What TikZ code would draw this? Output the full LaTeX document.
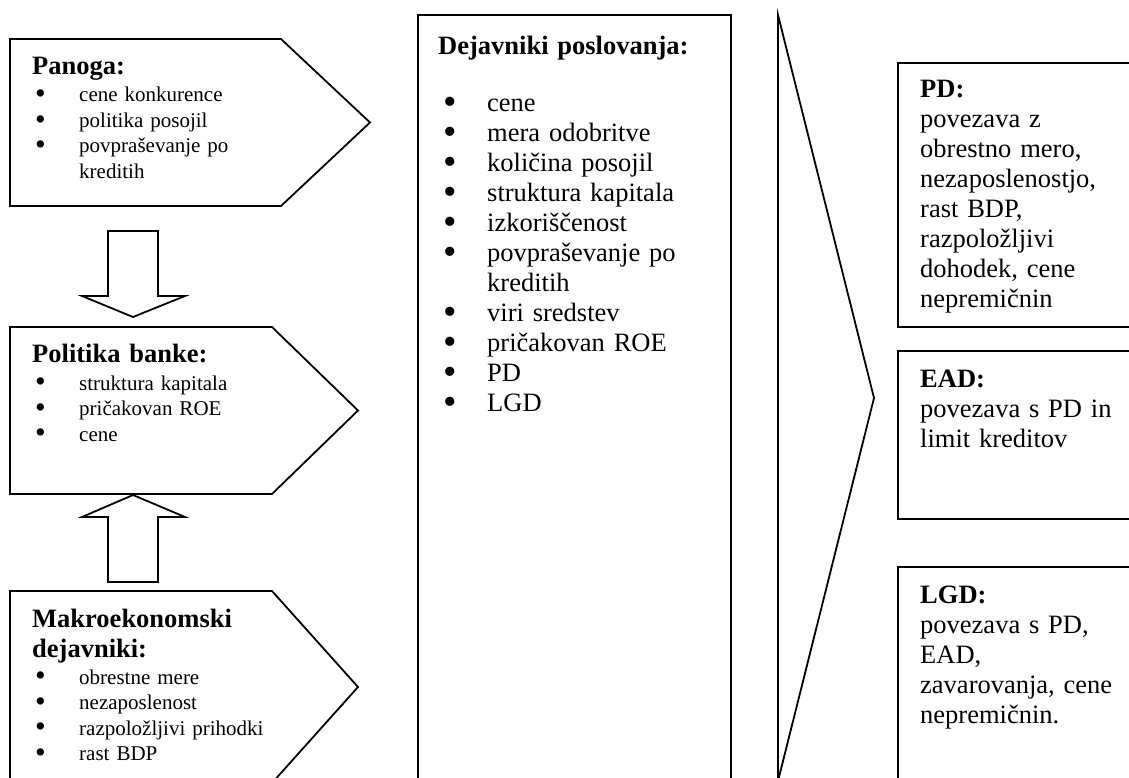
\documentclass[tikz,border=0pt]{standalone}
\usepackage{graphicx}
\usepackage{fontspec}
\setmainfont{Liberation Serif}

\newcommand{\bitem}{\makebox[44pt][l]{\smash{\raisebox{-0.09em}{\scalebox{1.45}{\textbullet}}}}}

\begin{document}
\begin{tikzpicture}[
  x=1pt, y=-1pt,
  frame/.style={draw, line width=1.8pt, line join=miter},
  head/.style={anchor=base west, inner sep=0pt, text width=300pt, align=left,
    font=\bfseries\fontsize{26.5}{30}\selectfont},
  small/.style={anchor=base west, inner sep=0pt, text width=300pt, align=left,
    font=\fontsize{21}{25.5}\selectfont},
  big/.style={anchor=base west, inner sep=0pt, text width=300pt, align=left,
    font=\fontsize{26.5}{30}\selectfont}
]
\useasboundingbox (0,0) rectangle (1129,778);
\clip (0,0) rectangle (1129,778);

% left column
\draw[frame] (10,39) -- (281,39) -- (370,122.5) -- (281,206) -- (10,206) -- cycle;
\draw[frame] (10,327) -- (272,327) -- (358,410.5) -- (272,494) -- (10,494) -- cycle;
\draw[frame] (10,591) -- (272,591) -- (358,687) -- (272,783) -- (10,783) -- cycle;

\node[head] (panoga) at (32,75) {Panoga:};
\node[small] (panogalist) at (35,102) {\bitem cene konkurence\\
  \bitem politika posojil\\
  \bitem povpraševanje po\\
  \hspace*{44pt}kreditih};

\node[head] (banka) at (32,362) {Politika banke:};
\node[small] (bankalist) at (35,390) {\bitem struktura kapitala\\
  \bitem pričakovan ROE\\
  \bitem cene};

\node[head] (makro) at (32,627) {Makroekonomski\\dejavniki:};
\node[small] (makrolist) at (35,684) {\bitem obrestne mere\\
  \bitem nezaposlenost\\
  \bitem razpoložljivi prihodki\\
  \bitem rast BDP};

% block arrows
\draw[frame] (108,231) -- (158,231) -- (158,296) -- (185,296) -- (133,317)
  -- (82,296) -- (108,296) -- cycle;
\draw[frame] (133,495) -- (185,517) -- (158,517) -- (158,582) -- (108,582)
  -- (108,517) -- (82,517) -- cycle;

% middle column
\draw[frame] (418,790) -- (418,15) -- (731,15) -- (731,790);
\node[head] (posl) at (438,55) {Dejavniki poslovanja:};
\node[big] (posllist) at (443,112) {\bitem cene\\
  \bitem mera odobritve\\
  \bitem količina posojil\\
  \bitem struktura kapitala\\
  \bitem izkoriščenost\\
  \bitem povpraševanje po\\
  \hspace*{44pt}kreditih\\
  \bitem viri sredstev\\
  \bitem pričakovan ROE\\
  \bitem PD\\
  \bitem LGD};

\draw[frame] (778,15) -- (874,398) -- (778,781) -- cycle;

% right column
\draw[frame] (1140,63) -- (898,63) -- (898,327) -- (1140,327);
\draw[frame] (1140,351) -- (898,351) -- (898,519) -- (1140,519);
\draw[frame] (1140,567) -- (898,567) -- (898,790);

\node[big] (pd) at (920,98) {\textbf{PD:}\\povezava z\\obrestno mero,\\
  nezaposlenostjo,\\rast BDP,\\razpoložljivi\\dohodek, cene\\nepremičnin};
\node[big] (ead) at (920,387) {\textbf{EAD:}\\povezava s PD in\\limit kreditov};
\node[big] (lgd) at (920,603) {\textbf{LGD:}\\povezava s PD,\\EAD,\\
  zavarovanja, cene\\nepremičnin.};

\end{tikzpicture}
\end{document}
